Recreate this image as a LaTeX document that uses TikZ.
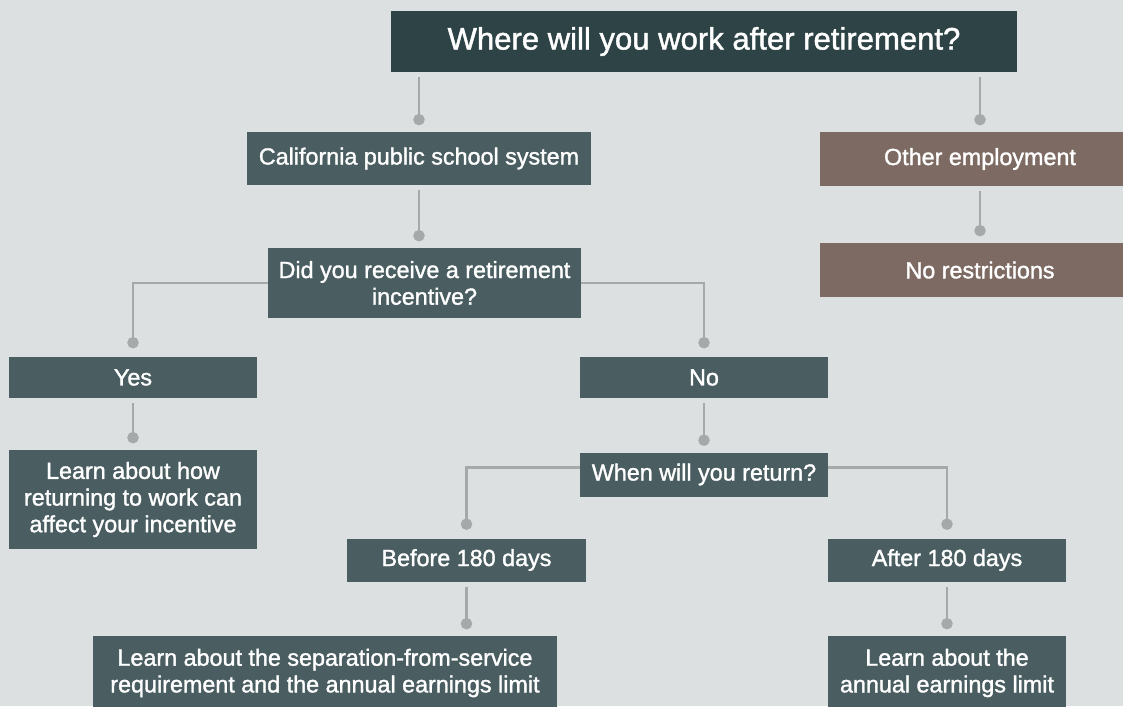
\documentclass[tikz,border=0pt]{standalone}
\usepackage{fontspec}
\setmainfont{Liberation Sans}[FakeBold=1.4]
\usetikzlibrary{arrows.meta}
\definecolor{bgc}{HTML}{DCE0E0}
\definecolor{topc}{HTML}{2D4346}
\definecolor{boxc}{HTML}{4A5D61}
\definecolor{othc}{HTML}{7D6A63}
\definecolor{linc}{HTML}{A6A9AA}
\begin{document}
\begin{tikzpicture}
	[x=0.75pt,y=-0.75pt,
	every node/.style={inner sep=0pt,outer sep=0pt,text=white,align=center,
		font=\fontsize{17.5}{20}\selectfont},
	stepbox/.style={fill=boxc},
	otherbox/.style={fill=othc},
	link/.style={draw=linc,line width=2.2pt,-{Circle[length=8.5pt]},
		shorten <=3.75pt,shorten >=5pt},
	branch/.style={link,shorten <=0pt,shorten >=6.5pt}]
	\def\u{0.75pt}
	\fill[bgc] (0,0) rectangle (1123,706);
	\useasboundingbox (0,0) rectangle (1123,706);
	\node[fill=topc,minimum width=626*\u,minimum height=61*\u,
		font=\fontsize{23.3}{28}\selectfont] (wh) at (704,41.5)
		{Where will you work after retirement?};
	\node[stepbox,minimum width=344*\u,minimum height=53*\u]  (cal)  at (419,158.5) {California public school system};
	\node[otherbox,minimum width=320*\u,minimum height=54*\u] (oth)  at (980,159)   {Other employment};
	\node[otherbox,minimum width=320*\u,minimum height=54*\u] (nor)  at (980,270)   {No restrictions};
	\node[stepbox,minimum width=313*\u,minimum height=70*\u]  (inc)  at (424.5,283) {Did you receive a retirement\\incentive?};
	\node[stepbox,minimum width=248*\u,minimum height=41*\u]  (yes)  at (133,377.5) {Yes};
	\node[stepbox,minimum width=248*\u,minimum height=41*\u]  (no)   at (704,377.5) {No};
	\node[stepbox,minimum width=248*\u,minimum height=99*\u]  (lhow) at (133,499.5) {Learn about how\\returning to work can\\affect your incentive};
	\node[stepbox,minimum width=248*\u,minimum height=44*\u]  (when) at (704,474.5) {When will you return?};
	\node[stepbox,minimum width=239*\u,minimum height=43*\u]  (bef)  at (466.5,560) {Before 180 days};
	\node[stepbox,minimum width=238*\u,minimum height=43*\u]  (aft)  at (947,560)   {After 180 days};
	\node[stepbox,minimum width=464*\u,minimum height=74*\u]  (lsep) at (325,673)   {Learn about the separation-from-service\\requirement and the annual earnings limit};
	\node[stepbox,minimum width=238*\u,minimum height=74*\u]  (lann) at (947,673)   {Learn about the\\annual earnings limit};
	\draw[link] (cal.north |- wh.south) -- (cal.north);
	\draw[link] (oth.north |- wh.south) -- (oth.north);
	\draw[link] (oth.south) -- (nor.north);
	\draw[link] (cal.south) -- (cal.south |- inc.north);
	\draw[branch] (inc.west) -| (yes.north);
	\draw[branch] (inc.east) -| (no.north);
	\draw[link] (yes.south) -- (lhow.north);
	\draw[link] (no.south) -- (when.north);
	\draw[branch] ([yshift=5pt]when.west) -| (bef.north);
	\draw[branch] ([yshift=5pt]when.east) -| (aft.north);
	\draw[link] (bef.south) -- (bef.south |- lsep.north);
	\draw[link] (aft.south) -- (lann.north);
\end{tikzpicture}
\end{document}
